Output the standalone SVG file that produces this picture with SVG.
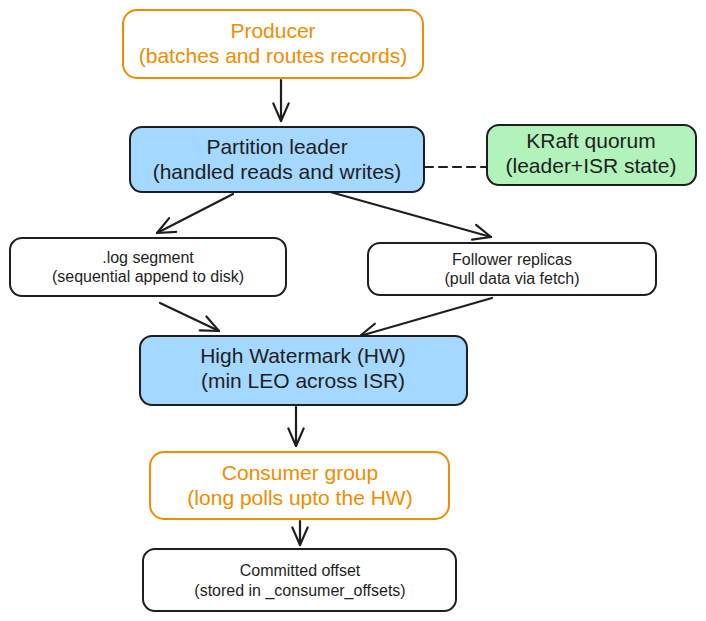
<svg xmlns="http://www.w3.org/2000/svg" width="706" height="621" viewBox="0 0 706 621">
<defs>
<marker id="ah" viewBox="0 0 20 20" refX="18" refY="10" markerWidth="22" markerHeight="22" markerUnits="userSpaceOnUse" orient="auto">
<path d="M2,3 L18,10 L2,17" fill="none" stroke="#1e1e1e" stroke-width="2" stroke-linecap="round" stroke-linejoin="round"/>
</marker>
<style>
.box{stroke:#1e1e1e;stroke-width:2;}
.orange{fill:#ffffff;stroke:#f08c00;stroke-width:2;}
.blue{fill:#a5d8ff;}
.green{fill:#b2f2bb;}
.white{fill:#ffffff;}
text{font-family:"Liberation Sans",Arial,sans-serif;text-anchor:middle;fill:#1e1e1e;}
.big{font-size:21px;}
.small{font-size:16px;}
.otext{fill:#f08c00;}
.conn{stroke:#1e1e1e;stroke-width:2.2;fill:none;stroke-linecap:round;}
</style>
</defs>
<rect width="706" height="621" fill="#ffffff"/>
<g id="connectors">
<line class="conn" x1="281" y1="80" x2="281" y2="121" marker-end="url(#ah)"/>
<line class="conn" x1="233" y1="194" x2="157" y2="233" marker-end="url(#ah)"/>
<line class="conn" x1="316" y1="188" x2="491" y2="237" marker-end="url(#ah)"/>
<line class="conn" x1="160" y1="303" x2="219" y2="331" marker-end="url(#ah)"/>
<line class="conn" x1="492" y1="298" x2="360" y2="336" marker-end="url(#ah)"/>
<line class="conn" x1="296" y1="407" x2="296" y2="446" marker-end="url(#ah)"/>
<line class="conn" x1="300" y1="521" x2="300" y2="545" marker-end="url(#ah)"/>
<line class="conn" x1="425" y1="167" x2="487" y2="167" stroke-dasharray="8 6"/>
</g>
<g id="producer">
<rect class="orange" x="123" y="10" width="300" height="68" rx="14"/>
<text class="big otext" x="273" y="38">Producer</text>
<text class="big otext" x="273" y="63">(batches and routes records)</text>
</g>
<g id="leader">
<rect class="box blue" x="130" y="127" width="294" height="65" rx="12"/>
<text class="big" x="277" y="154">Partition leader</text>
<text class="big" x="277" y="179">(handled reads and writes)</text>
</g>
<g id="kraft">
<rect class="box green" x="487" y="125" width="209" height="60" rx="12"/>
<text class="big" x="591" y="148">KRaft quorum</text>
<text class="big" x="591" y="173">(leader+ISR state)</text>
</g>
<g id="log">
<rect class="box white" x="10" y="238" width="276" height="58" rx="12"/>
<text class="small" x="148" y="263">.log segment</text>
<text class="small" x="148" y="282">(sequential append to disk)</text>
</g>
<g id="follower">
<rect class="box white" x="368" y="243" width="288" height="52" rx="12"/>
<text class="small" x="512" y="265">Follower replicas</text>
<text class="small" x="512" y="284">(pull data via fetch)</text>
</g>
<g id="hw">
<rect class="box blue" x="140" y="336" width="327" height="69" rx="12"/>
<text class="big" x="303" y="363">High Watermark (HW)</text>
<text class="big" x="303" y="388">(min LEO across ISR)</text>
</g>
<g id="consumer">
<rect class="orange" x="150" y="452" width="299" height="67" rx="14"/>
<text class="big otext" x="300" y="480">Consumer group</text>
<text class="big otext" x="300" y="505">(long polls upto the HW)</text>
</g>
<g id="committed">
<rect class="box white" x="143" y="549" width="313" height="62" rx="12"/>
<text class="small" x="300" y="576">Committed offset</text>
<text class="small" x="300" y="596">(stored in _consumer_offsets)</text>
</g>
</svg>
